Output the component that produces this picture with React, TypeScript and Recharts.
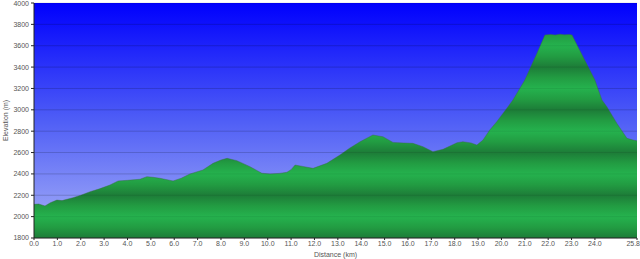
import { AreaChart, Area, XAxis, YAxis, CartesianGrid, ReferenceLine } from 'recharts';

// distance along the route (km) and elevation (m)
const distanceKm = [
  0.0, 0.2, 0.47, 0.7, 0.98, 1.2, 1.67, 2.0, 2.4, 2.8, 3.25, 3.6, 4.0, 4.53, 4.83, 5.1, 5.39,
  5.95, 6.3, 6.67, 7.23, 7.66, 8.0, 8.26, 8.68, 9.24, 9.75, 10.1, 10.5, 10.82, 11.0, 11.17,
  11.5, 11.94, 12.53, 13.09, 13.5, 13.95, 14.5, 14.93, 15.36, 15.8, 16.21, 16.64, 17.07, 17.5,
  18.1, 18.35, 18.7, 18.95, 19.21, 19.5, 19.8, 20.28, 20.49, 21.0, 21.52, 21.86, 22.1, 22.3,
  22.5, 22.7, 22.9, 23.02, 23.49, 24.0, 24.3, 24.51, 24.94, 25.37, 25.63, 25.8,
];
const elevationM = [
  2115, 2118, 2100, 2130, 2155, 2150, 2177, 2200, 2233, 2260, 2296, 2334, 2340, 2350, 2374, 2368,
  2359, 2334, 2360, 2399, 2437, 2499, 2530, 2546, 2524, 2468, 2406, 2400, 2405, 2415, 2440, 2483,
  2470, 2452, 2499, 2577, 2640, 2701, 2764, 2748, 2695, 2690, 2686, 2655, 2608, 2630, 2692, 2701,
  2690, 2670, 2717, 2811, 2889, 3029, 3092, 3279, 3529, 3700, 3706, 3700, 3708, 3702, 3706, 3700,
  3497, 3279, 3092, 3029, 2873, 2733, 2717, 2710,
];
const yTicks = [1800, 2000, 2200, 2400, 2600, 2800, 3000, 3200, 3400, 3600, 3800, 4000];
const xTicks = [
  0, 1, 2, 3, 4, 5, 6, 7, 8, 9, 10, 11, 12, 13, 14, 15, 16, 17, 18, 19, 20, 21, 22, 23, 24, 25.8,
];

const data = distanceKm.map((km, i) => ({ km, elev: elevationM[i] }));

const FONT = '"Liberation Sans", Arial, sans-serif';
const TEXT = '#555';

// banding of the green fill: darker every 400 m, lighter in between
const bandStops: { off: number; color: string }[] = [];
for (let v = 4000; v >= 1800; v -= 100) {
  const phase = ((v - 1800) / 100) % 4; // 0 dark, 2 light
  const color = phase === 0 ? '#1d7c38' : phase === 2 ? '#25b24e' : '#229c42';
  bandStops.push({ off: (4000 - v) / 2200, color });
}

function XTick(props: any) {
  const { x, y, payload } = props;
  const last = payload.value === 25.8;
  return (
    <text
      x={last ? x + 3 : x}
      y={y}
      dy="0.71em"
      textAnchor={last ? 'end' : 'middle'}
      fontSize={7}
      fontFamily={FONT}
      fill={TEXT}
    >
      {Number(payload.value).toFixed(1)}
    </text>
  );
}

export default function App() {
  return (
    <div style={{ width: 640, height: 259 }}>
      <style>{'body{margin:0}'}</style>
      <AreaChart width={640} height={259} data={data} margin={{ top: 3, right: 3, bottom: 0, left: 0 }}>
        <defs>
          <linearGradient id="sky" x1="0" y1="0" x2="0" y2="1">
            <stop offset="0" stopColor="#0000fd" />
            <stop offset="0.5" stopColor="#4f5ef6" />
            <stop offset="1" stopColor="#a9b2f7" />
          </linearGradient>
          <linearGradient id="land" gradientUnits="userSpaceOnUse" x1="0" y1="3" x2="0" y2="238">
            {bandStops.map((s, i) => (
              <stop key={i} offset={s.off} stopColor={s.color} />
            ))}
          </linearGradient>
        </defs>
        <CartesianGrid
          horizontal
          vertical={false}
          fill="url(#sky)"
          fillOpacity={1}
          stroke="#000"
          strokeOpacity={0.1}
        />
        <XAxis
          dataKey="km"
          type="number"
          domain={[0, 25.8]}
          ticks={xTicks}
          interval={0}
          height={21}
          tickSize={2}
          tickMargin={1}
          tick={<XTick />}
          axisLine={{ stroke: '#222' }}
          tickLine={{ stroke: '#222' }}
          label={{
            value: 'Distance  (km)',
            position: 'insideBottom',
            offset: 2,
            style: { fontSize: 7, fontFamily: FONT, fill: TEXT, whiteSpace: 'pre' },
          }}
        />
        <YAxis
          type="number"
          domain={[1800, 4000]}
          ticks={yTicks}
          interval={0}
          width={34}
          tickSize={3}
          tickMargin={2}
          tick={{ fontSize: 7, fontFamily: FONT, fill: TEXT }}
          axisLine={{ stroke: '#222' }}
          tickLine={{ stroke: '#222' }}
          label={{
            value: 'Elevation (m)',
            angle: -90,
            position: 'insideLeft',
            offset: 6,
            style: { fontSize: 7, fontFamily: FONT, fill: TEXT, textAnchor: 'middle' },
          }}
        />
        <Area
          type="linear"
          dataKey="elev"
          stroke="#3a6a45"
          strokeOpacity={0.55}
          strokeWidth={0.8}
          fill="url(#land)"
          fillOpacity={1}
          isAnimationActive={false}
        />
        {yTicks.slice(1, -1).map((v) => (
          <ReferenceLine key={v} y={v} stroke="#000" strokeOpacity={0.07} />
        ))}
      </AreaChart>
    </div>
  );
}
